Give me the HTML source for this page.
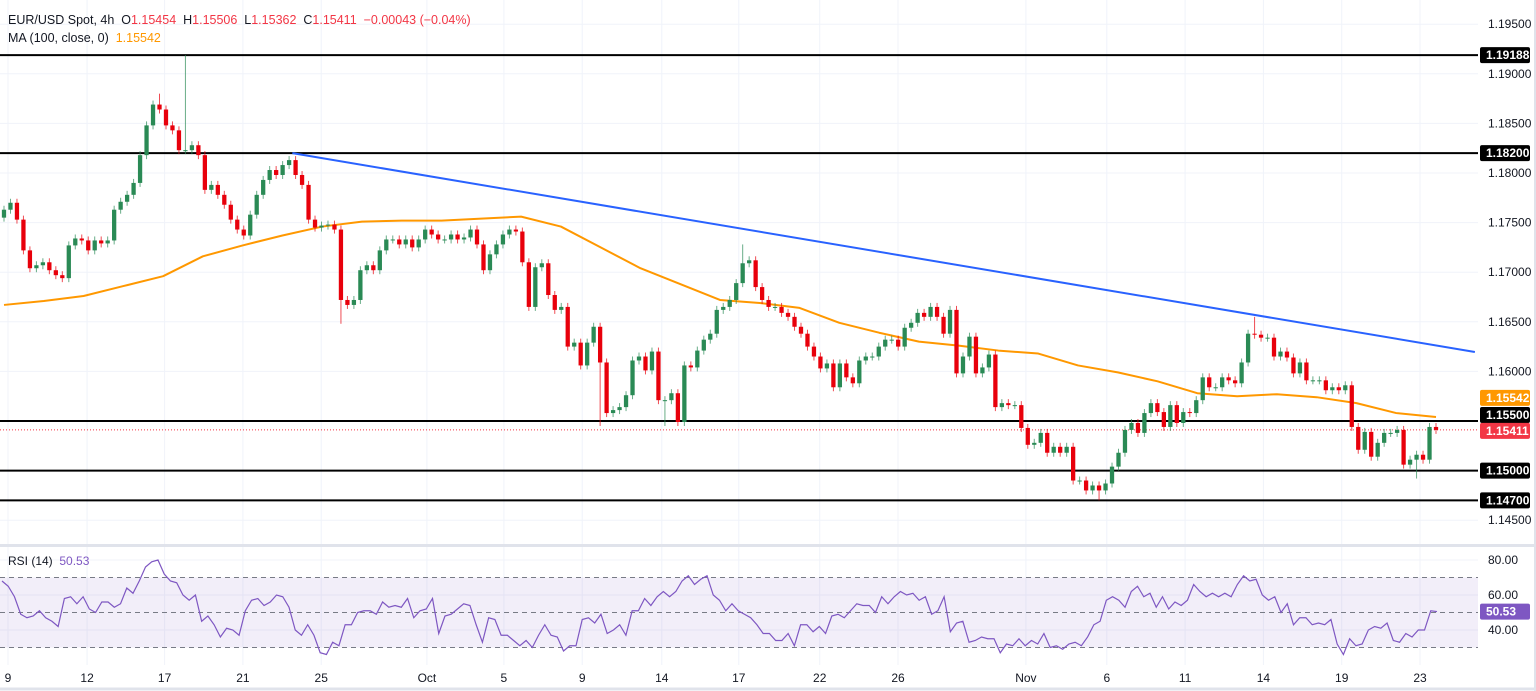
<!DOCTYPE html>
<html><head><meta charset="utf-8">
<style>
html,body{margin:0;padding:0;background:#fff;}
svg{display:block;font-family:"Liberation Sans",Arial,sans-serif;}
text{white-space:pre;}
</style></head>
<body>
<svg id="chart" width="1536" height="691" viewBox="0 0 1536 691" xmlns="http://www.w3.org/2000/svg">
<rect width="1536" height="691" fill="#ffffff"/>
<g id="grid"></g>
<g id="rsiband"></g>
<g id="levels"></g>
<g id="ma"></g>
<g id="candles"></g>
<g id="trend"></g>
<g id="rsi"></g>
<g id="axis"></g>
<g id="timeaxis"></g>
<line x1="0" y1="545.5" x2="1536" y2="545.5" stroke="#e0e3eb" stroke-width="3"/>
<line x1="0" y1="689" x2="1536" y2="689" stroke="#e0e3eb" stroke-width="3"/>
<line x1="1535" y1="0" x2="1535" y2="691" stroke="#e0e3eb" stroke-width="2"/>
<text x="8" y="24" font-size="12.5" fill="#131722">EUR/USD Spot, 4h  O<tspan fill="#f23645">1.15454</tspan>  H<tspan fill="#f23645">1.15506</tspan>  L<tspan fill="#f23645">1.15362</tspan>  C<tspan fill="#f23645">1.15411</tspan>  <tspan fill="#f23645">−0.00043 (−0.04%)</tspan></text>
<text x="8" y="42" font-size="12.5" fill="#131722">MA (100, close, 0)  <tspan fill="#ff9800">1.15542</tspan></text>
<text x="8" y="565" font-size="12" fill="#131722">RSI (14)  <tspan fill="#7e57c2">50.53</tspan></text>
</svg>
<script>
const closes=[1.1763,1.1770,1.1753,1.1722,1.1704,1.1707,1.1710,1.1702,1.1697,1.1694,1.1727,1.1734,1.1732,1.1722,1.1732,1.1729,1.1732,1.1763,1.1771,1.1778,1.1790,1.1818,1.1848,1.1869,1.1864,1.1848,1.1843,1.1823,1.1823,1.1828,1.1818,1.1783,1.1788,1.1778,1.1768,1.1753,1.1743,1.1737,1.1758,1.1778,1.1793,1.1803,1.1798,1.1808,1.1813,1.1798,1.1788,1.1753,1.1745,1.1747,1.1748,1.1743,1.1672,1.1667,1.1672,1.1702,1.1707,1.1702,1.1722,1.1733,1.1733,1.1728,1.1733,1.1725,1.1733,1.1743,1.1738,1.1733,1.1733,1.1738,1.1733,1.1735,1.1743,1.1728,1.1702,1.1718,1.1728,1.1738,1.1743,
1.1741,1.1710,1.1665,1.1705,1.1709,1.1677,1.1662,1.1665,1.1625,1.1629,1.1606,1.1629,1.1645,1.1609,1.1558,1.1561,1.1564,1.1576,1.1611,1.1615,1.1601,1.1620,1.1571,1.1571,1.1578,1.1549,1.1606,1.1604,1.1621,1.1632,1.1638,1.1662,1.1665,1.1672,1.1689,1.1709,1.1712,1.1685,1.1672,1.1665,1.1665,1.1659,1.1655,1.1645,1.1638,1.1625,1.1615,1.1603,1.1608,1.1584,1.1608,1.1594,1.1588,1.1611,1.1615,1.1615,1.1625,1.1632,1.1632,1.1625,1.1644,1.1649,1.1659,1.1655,1.1665,1.1655,1.1638,1.1662,1.1598,1.1615,
1.1635,1.1598,1.1604,1.1617,1.1564,1.1568,1.1566,1.1566,1.1543,1.1526,1.1528,1.1538,1.1518,1.1524,1.1518,1.1524,1.1490,1.1490,1.1480,1.1485,1.1480,1.1487,1.1504,1.1518,1.1541,1.1548,1.1538,1.1558,1.1568,1.1559,1.1544,1.1566,1.1548,1.1559,1.1558,1.1571,1.1594,1.1584,1.1584,1.1594,1.1591,1.1588,1.1609,1.1638,1.1637,1.1634,1.1634,1.1615,1.1620,1.1614,1.1598,1.1609,1.1591,1.1591,1.1591,1.1581,1.1584,1.1581,1.1586,1.1544,1.1521,1.1539,1.1514,1.1528,1.1538,1.1538,1.1541,1.1506,1.1511,1.1516,1.1511,1.1544,1.1541];
const firstOpen=1.1755;
const highSpikes=[[28,1.19188],[24,1.1880],[52,1.1648],[92,1.1545],[102,1.1545],[114,1.1728],[169,1.1470],[193,1.1655],[218,1.1492]];
const maValues=[1.1667,1.1671,1.1676,1.1686,1.1696,1.1716,1.1727,1.1737,1.1746,1.1751,1.1752,1.1752,1.1754,1.1756,1.1746,1.1725,1.1704,1.1688,1.1672,1.1669,1.1664,1.1649,1.1639,1.1630,1.1626,1.1621,1.1618,1.1606,1.1599,1.1590,1.1578,1.1575,1.1577,1.1574,1.1568,1.1558,1.1554];
const rsiValues=[68,65,59,49,47,48,51,47,45,42,58,59,55,59,52,50,56,56,53,55,64,61,68,76,79,80,72,68,67,60,57,60,45,48,43,36,41,40,37,51,57,58,54,56,60,59,53,40,37,43,37,27,26,33,31,43,43,50,51,51,49,56,53,54,53,58,47,51,52,58,38,48,49,52,55,54,43,33,47,46,37,37,34,31,34,30,37,43,37,36,28,31,31,46,47,44,49,38,40,43,37,51,51,58,54,59,62,59,62,68,71,
66,69,71,60,57,51,55,51,49,47,43,38,38,34,34,38,31,43,43,39,42,38,48,49,47,51,55,54,54,50,59,55,59,62,60,61,57,59,49,51,59,39,44,45,33,34,36,35,35,27,32,31,35,31,34,32,38,30,31,29,32,33,31,36,43,45,57,59,57,53,62,65,59,61,53,59,52,56,54,57,66,62,59,61,59,61,59,66,71,68,69,60,57,59,50,55,43,47,47,43,44,43,46,32,26,35,31,32,40,42,41,44,34,33,38,36,40,40,51,50.53];
const levelPrices=[1.19188,1.18200,1.15500,1.15000,1.14700];
const priceTicks=[1.195,1.190,1.185,1.180,1.175,1.170,1.165,1.160,1.145];
const trendStart=[44.5,1.1820], trendEnd=[closes.length+5,1.16196];
const timeLabels=["9","12","17","21","25","Oct","5","9","14","17","22","26","Nov","6","11","14","19","23"];
const timeDays=[0,3.03,6,9,12,16.05,19,22,25.05,28,31.1,34.1,39,42.1,45.1,48.1,51.1,54.1];
const rsiTicks=[80,60,40];

const NS="http://www.w3.org/2000/svg";
function mk(parent,tag,attrs){const e=document.createElementNS(NS,tag);for(const k in attrs)e.setAttribute(k,attrs[k]);document.getElementById(parent).appendChild(e);return e;}
const N=closes.length, step=1432/(N-1);
const xC=i=>4+i*step;
const yP=p=>173+(1.18-p)*9920;
const yR=v=>560+(80-v)*1.75;
const xD=d=>8+d*26.1;
const xR=j=>2+j*(1435/(rsiValues.length-1));
const xMA=k=>4+k*(1432/(maValues.length-1));

timeDays.forEach(d=>{const l=mk('grid','line',{x1:xD(d),x2:xD(d),y1:0,y2:665,stroke:'#f0f3fa'});

});
priceTicks.concat([1.155,1.150]).forEach(p=>{const l=mk('grid','line',{x1:0,x2:1478,y1:yP(p),y2:yP(p),stroke:'#f0f3fa'});

});
rsiTicks.forEach(v=>{const l=mk('grid','line',{x1:0,x2:1478,y1:yR(v),y2:yR(v),stroke:'#f0f3fa'});

});

const band=mk('rsiband','rect',{x:0,y:yR(70),width:1478,height:yR(30)-yR(70),fill:'#7e57c2','fill-opacity':0.1});


[70,50,30].forEach(v=>{const l=mk('rsiband','line',{x1:0,x2:1478,y1:yR(v),y2:yR(v),stroke:'#787b86','stroke-dasharray':'5 4'});

});

levelPrices.forEach(p=>{const l=mk('levels','line',{x1:0,x2:1478,y1:yP(p),y2:yP(p),stroke:'#000','stroke-width':2});

});
const cur=mk('levels','line',{x1:0,x2:1478,y1:yP(1.15411),y2:yP(1.15411),stroke:'#f23645','stroke-dasharray':'1 2'});



const maPath=mk('ma','polyline',{points:maValues.map((v,k)=>xMA(k)+','+yP(v)).join(' '),fill:'none',stroke:'#ff9800','stroke-width':2,'stroke-linejoin':'round'});



const spikeMap={};highSpikes.forEach(s=>spikeMap[s[0]]=s[1]);
for(let i=0;i<N;i++){
  const o=i===0?firstOpen:closes[i-1], c=closes[i];
  const up=c>=o, col=up?'#2a8a55':'#e8000b';
  const x=xC(i), yt=yP(Math.max(o,c)), yb=yP(Math.min(o,c));
  let hiY=yt-4, loY=yb+4;
  if(spikeMap[i]!==undefined){const sy=yP(spikeMap[i]); if(sy<yt) hiY=sy; else loY=sy;}
  const w=mk('candles','line',{x1:x,x2:x,y1:hiY,y2:loY,stroke:col,'stroke-width':1,'stroke-opacity':0.7});
  
  
  const b=mk('candles','rect',{x:x-step*0.33,y:yt,width:step*0.66,height:Math.max(1,yb-yt),fill:col});
  
  
}

const tl=mk('trend','line',{x1:xC(trendStart[0]),y1:yP(trendStart[1]),x2:xC(trendEnd[0]),y2:yP(trendEnd[1]),stroke:'#2962ff','stroke-width':2});



const rl=mk('rsi','polyline',{points:rsiValues.map((v,j)=>xR(j)+','+yR(v)).join(' '),fill:'none',stroke:'#7e57c2','stroke-width':1.2});



priceTicks.forEach(p=>{const t=mk('axis','text',{x:1488,y:yP(p)+4,'font-size':12,fill:'#131722'});t.textContent=p.toFixed(5);

});
function tag(p,txt,bg,y){const yy=y!==undefined?y:yP(p);
 const r=mk('axis','rect',{x:1480,y:yy-8,width:50,height:16,fill:bg,rx:2});
 
 
 const t=mk('axis','text',{x:1486,y:yy+4,'font-size':12,fill:'#fff','font-weight':'bold'});t.textContent=txt;
 
 }
levelPrices.forEach(p=>tag(p,p.toFixed(5),'#000',p===1.155?yP(p)-6:undefined));
tag(1.15542,'1.15542','#ff9800',yP(1.15542)-19);
tag(1.15411,'1.15411','#f23645',yP(1.15411)+1);
rsiTicks.forEach(v=>{const t=mk('axis','text',{x:1488,y:yR(v)+4,'font-size':12,fill:'#131722'});t.textContent=v.toFixed(2);

});
tag(0,'50.53','#7e57c2',yR(50.53));

timeLabels.forEach((s,k)=>{const t=mk('timeaxis','text',{x:xD(timeDays[k]),y:682,'font-size':12,fill:'#131722','text-anchor':'middle'});t.textContent=s;

});
</script>
</body></html>
